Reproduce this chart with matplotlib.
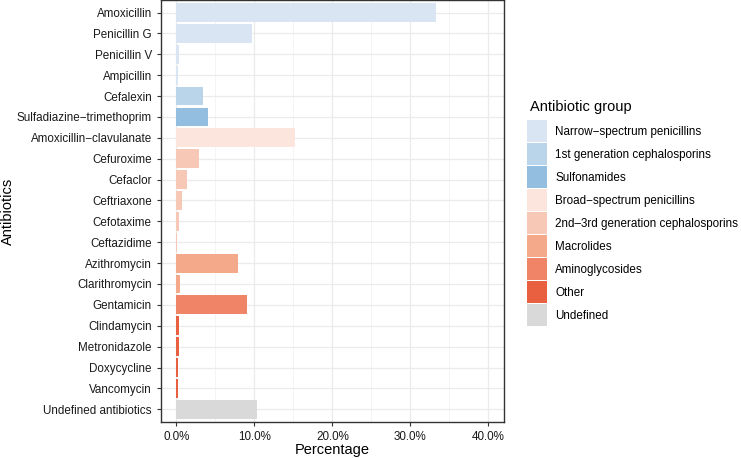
import matplotlib
matplotlib.use("Agg")
import matplotlib.pyplot as plt
from matplotlib.patches import Patch
from matplotlib.ticker import MultipleLocator, FuncFormatter

plt.rcParams['font.family'] = ['Liberation Sans', 'DejaVu Sans']

antibiotics = ["Amoxicillin", "Penicillin G", "Penicillin V", "Ampicillin", "Cefalexin",
               "Sulfadiazine\u2212trimethoprim", "Amoxicillin\u2212clavulanate", "Cefuroxime",
               "Cefaclor", "Ceftriaxone", "Cefotaxime", "Ceftazidime", "Azithromycin",
               "Clarithromycin", "Gentamicin", "Clindamycin", "Metronidazole", "Doxycycline",
               "Vancomycin", "Undefined antibiotics"]
percentages = [33.3, 9.7, 0.3, 0.2, 3.4, 4.1, 15.2, 2.9, 1.4, 0.7, 0.3, 0.1, 7.9, 0.4,
               9.0, 0.3, 0.3, 0.2, 0.2, 10.3]
groups = ["Narrow", "Narrow", "Narrow", "Narrow", "Ceph1", "Sulfa", "Broad", "Ceph23",
          "Ceph23", "Ceph23", "Ceph23", "Ceph23", "Macro", "Macro", "Amino", "Other",
          "Other", "Other", "Other", "Undef"]
group_keys = ["Narrow", "Ceph1", "Sulfa", "Broad", "Ceph23", "Macro", "Amino", "Other", "Undef"]
group_labels = ["Narrow\u2212spectrum penicillins", "1st generation cephalosporins", "Sulfonamides",
                "Broad\u2212spectrum penicillins", "2nd\u20133rd generation cephalosporins",
                "Macrolides", "Aminoglycosides", "Other", "Undefined"]
group_colors = ["#d9e5f3", "#bad5ea", "#93bee0", "#fce5dd", "#f8c8b6", "#f4a98b",
                "#ef8566", "#e8603f", "#d9d9d9"]
cmap = dict(zip(group_keys, group_colors))

fig = plt.figure(figsize=(7.41, 4.58), dpi=100)
ax = fig.add_axes([0.217, 0.079, 0.463, 0.921])

ypos = list(range(len(antibiotics)))
ax.barh(ypos, percentages, height=0.9, color=[cmap[g] for g in groups], zorder=3)
ax.set_ylim(len(antibiotics) - 0.4, -0.6)
ax.set_xlim(-2.0, 42.0)
ax.set_yticks(ypos)
ax.set_yticklabels(antibiotics)
ax.xaxis.set_major_locator(MultipleLocator(10))
ax.xaxis.set_minor_locator(MultipleLocator(5))
ax.xaxis.set_major_formatter(FuncFormatter(lambda v, p: f"{v:.1f}%"))
ax.grid(True, which='major', color='#ebebeb', linewidth=0.9, zorder=0)
ax.grid(True, which='minor', axis='x', color='#f3f3f3', linewidth=0.6, zorder=0)
ax.tick_params(axis='both', which='major', length=3, color='#333333', labelsize=8.4,
               labelcolor='#1a1a1a', width=0.8)
ax.tick_params(axis='x', which='minor', length=0)
for s in ax.spines.values():
    s.set_color('#333333')
    s.set_linewidth(1.0)
ax.set_xlabel("Percentage", fontsize=10.5, va='center')
ax.set_ylabel("Antibiotics", fontsize=10.5, va='center')
ax.xaxis.set_label_coords(0.5, -0.067)
ax.yaxis.set_label_coords(-0.445, 0.5)

handles = [Patch(facecolor=c, edgecolor='none') for c in group_colors]
fig.text(0.715, 1 - 107 / 458, "Antibiotic group", fontsize=10.5, va='center', ha='left')
leg = fig.legend(handles, group_labels, loc='upper left',
                 bbox_to_anchor=(0.711, 1 - 120 / 458), frameon=False, fontsize=8.4,
                 handlelength=1.72, handleheight=2.55,
                 labelspacing=0.07, handletextpad=0.7, borderaxespad=0, borderpad=0)

fig.savefig("out.png", dpi=100)
